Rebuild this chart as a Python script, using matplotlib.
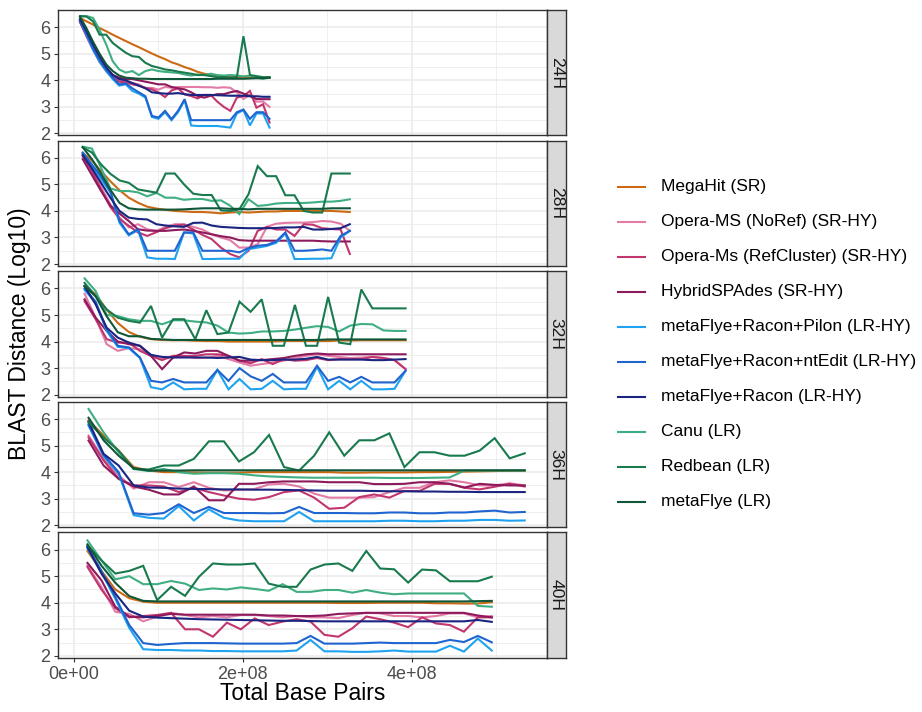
import matplotlib
matplotlib.use("Agg")
import matplotlib.pyplot as plt
from matplotlib.lines import Line2D

plt.rcParams["font.family"] = ["Liberation Sans", "DejaVu Sans"]

# ---------------------------------------------------------------- data
methods = [
    "MegaHit (SR)",
    "Opera-MS (NoRef) (SR-HY)",
    "Opera-Ms (RefCluster) (SR-HY)",
    "HybridSPAdes (SR-HY)",
    "metaFlye+Racon+Pilon (LR-HY)",
    "metaFlye+Racon+ntEdit (LR-HY)",
    "metaFlye+Racon (LR-HY)",
    "Canu (LR)",
    "Redbean (LR)",
    "metaFlye (LR)",
]
method_colors = [
    "#CC6A14", "#E27BA6", "#C2366F", "#8C1A5C", "#1FA2F0",
    "#1F64CF", "#1B2580", "#3FAE82", "#197A4E", "#10573A",
]
facets = ["24H", "28H", "32H", "36H", "40H"]

# total base pairs (millions) of each subsample, per time point
bp_24h = [7.7, 15.5, 23.2, 30.9, 38.7, 46.4, 54.1, 61.9, 69.6, 77.3,
          85.1, 92.8, 100.5, 108.3, 116.0, 123.7, 131.5, 139.2, 146.9, 154.7,
          162.4, 170.1, 177.9, 185.6, 193.3, 201.1, 208.8, 216.5, 224.3, 232.0]
bp_28h = [10.9, 21.8, 32.7, 43.6, 54.5, 65.4, 76.3, 87.2, 98.1, 109.0,
          119.9, 130.8, 141.7, 152.6, 163.5, 174.4, 185.3, 196.2, 207.1, 218.0,
          228.9, 239.8, 250.7, 261.6, 272.5, 283.4, 294.3, 305.2, 316.1, 327.0]
bp_32h = [13.1, 26.2, 39.3, 52.4, 65.5, 78.6, 91.7, 104.8, 117.9, 131.0,
          144.1, 157.2, 170.3, 183.4, 196.5, 209.6, 222.7, 235.8, 248.9, 262.0,
          275.1, 288.2, 301.3, 314.4, 327.5, 340.6, 353.7, 366.8, 379.9, 393.0]
bp_36h = [17.8, 35.6, 53.4, 71.2, 89.0, 106.8, 124.6, 142.4, 160.2, 178.0,
          195.8, 213.6, 231.4, 249.2, 267.0, 284.8, 302.6, 320.4, 338.2, 356.0,
          373.8, 391.6, 409.4, 427.2, 445.0, 462.8, 480.6, 498.4, 516.2, 534.0]
bp_40h = [16.5, 33.0, 49.5, 66.0, 82.5, 99.0, 115.5, 132.0, 148.5, 165.0,
          181.5, 198.0, 214.5, 231.0, 247.5, 264.0, 280.5, 297.0, 313.5, 330.0,
          346.5, 363.0, 379.5, 396.0, 412.5, 429.0, 445.5, 462.0, 478.5, 495.0]

# BLAST distance (log10) per method, per time point
blast_24h = {
    "MegaHit (SR)": [6.35, 6.22, 6.10, 5.97, 5.85, 5.72, 5.60, 5.48, 5.36, 5.25, 5.13, 5.01, 4.90, 4.80, 4.68, 4.60, 4.50, 4.42, 4.32, 4.25, 4.20, 4.18, 4.15, 4.15, 4.12, 4.12, 4.10, 4.10, 4.10, 4.10],
    "Opera-MS (NoRef) (SR-HY)": [6.25, 5.75, 5.25, 4.80, 4.45, 4.20, 4.00, 3.95, 3.90, 3.85, 3.70, 3.72, 3.65, 3.75, 3.72, 3.75, 3.75, 3.75, 3.75, 3.74, 3.74, 3.72, 3.74, 3.72, 3.55, 3.30, 3.45, 3.20, 3.20, 3.00],
    "Opera-Ms (RefCluster) (SR-HY)": [6.20, 5.65, 5.15, 4.70, 4.35, 4.10, 3.95, 3.92, 3.85, 3.80, 3.72, 3.66, 3.55, 3.37, 3.62, 3.70, 3.47, 3.41, 3.32, 3.45, 3.45, 3.20, 3.00, 2.85, 3.35, 3.41, 3.60, 2.97, 3.10, 2.41],
    "HybridSPAdes (SR-HY)": [6.20, 5.70, 5.20, 4.75, 4.45, 4.20, 4.10, 4.05, 4.05, 4.00, 3.95, 3.90, 3.85, 3.85, 3.75, 3.70, 3.66, 3.55, 3.41, 3.35, 3.42, 3.48, 3.48, 3.55, 3.60, 3.50, 3.41, 3.30, 3.29, 3.29],
    "metaFlye+Racon+Pilon (LR-HY)": [6.25, 5.70, 5.15, 4.70, 4.35, 4.05, 3.80, 3.85, 3.60, 3.50, 3.35, 2.62, 2.55, 2.80, 2.50, 2.80, 3.25, 2.30, 2.28, 2.28, 2.28, 2.28, 2.25, 2.22, 2.75, 2.88, 2.30, 2.75, 2.75, 2.22],
    "metaFlye+Racon+ntEdit (LR-HY)": [6.25, 5.75, 5.20, 4.75, 4.40, 4.10, 3.85, 3.88, 3.70, 3.55, 3.40, 2.66, 2.60, 2.85, 2.54, 2.85, 3.29, 2.50, 2.50, 2.50, 2.50, 2.50, 2.50, 2.50, 2.80, 2.90, 2.55, 2.80, 2.80, 2.55],
    "metaFlye+Racon (LR-HY)": [6.30, 5.85, 5.35, 4.90, 4.50, 4.20, 4.05, 4.00, 3.90, 3.80, 3.70, 3.55, 3.52, 3.50, 3.50, 3.52, 3.48, 3.45, 3.45, 3.45, 3.45, 3.44, 3.43, 3.42, 3.42, 3.42, 3.40, 3.40, 3.38, 3.38],
    "Canu (LR)": [6.42, 6.42, 6.35, 5.90, 5.35, 4.72, 4.41, 4.29, 4.35, 4.20, 4.35, 4.41, 4.35, 4.32, 4.30, 4.28, 4.22, 4.18, 4.22, 4.20, 4.25, 4.20, 4.18, 4.20, 4.18, 4.15, 4.18, 4.10, 4.06, 4.10],
    "Redbean (LR)": [6.42, 6.40, 6.22, 5.72, 5.72, 5.41, 5.22, 5.04, 4.91, 4.88, 4.66, 4.54, 4.48, 4.41, 4.38, 4.33, 4.29, 4.25, 4.20, 4.20, 4.16, 4.12, 4.12, 4.10, 4.12, 5.66, 4.20, 4.16, 4.12, 4.12],
    "metaFlye (LR)": [6.40, 5.95, 5.45, 5.00, 4.60, 4.35, 4.18, 4.10, 4.08, 4.06, 4.06, 4.05, 4.05, 4.05, 4.05, 4.05, 4.05, 4.05, 4.05, 4.05, 4.05, 4.06, 4.06, 4.06, 4.06, 4.06, 4.07, 4.08, 4.08, 4.10],
}
blast_28h = {
    "MegaHit (SR)": [6.19, 5.90, 5.50, 5.12, 4.78, 4.50, 4.31, 4.16, 4.09, 4.04, 4.00, 3.98, 3.96, 3.96, 3.94, 3.91, 3.94, 3.96, 3.94, 3.96, 3.98, 3.98, 4.00, 4.00, 4.00, 4.00, 4.00, 4.00, 3.98, 3.96],
    "Opera-MS (NoRef) (SR-HY)": [6.12, 5.60, 4.90, 4.25, 3.75, 3.38, 3.50, 3.31, 3.25, 3.40, 3.50, 3.50, 3.40, 3.30, 3.12, 3.00, 2.90, 2.62, 2.62, 2.75, 3.40, 3.52, 3.55, 3.56, 3.56, 3.58, 3.62, 3.60, 3.52, 3.25],
    "Opera-Ms (RefCluster) (SR-HY)": [6.06, 5.50, 4.80, 4.15, 3.70, 3.44, 3.19, 3.06, 3.20, 3.35, 3.45, 3.48, 3.30, 3.10, 2.94, 2.62, 2.38, 2.25, 2.50, 3.25, 3.40, 3.30, 3.30, 3.06, 3.50, 3.48, 3.35, 3.32, 3.30, 2.38],
    "HybridSPAdes (SR-HY)": [5.95, 5.35, 4.75, 4.20, 3.90, 3.62, 3.31, 3.26, 3.25, 3.25, 3.28, 3.30, 3.25, 3.19, 3.12, 3.05, 3.00, 2.90, 2.88, 2.88, 2.88, 2.88, 2.88, 2.88, 2.88, 2.88, 2.86, 2.85, 2.85, 2.85],
    "metaFlye+Racon+Pilon (LR-HY)": [6.15, 5.70, 5.20, 4.70, 3.55, 3.08, 3.28, 2.25, 2.20, 2.20, 2.19, 3.19, 3.15, 2.19, 2.19, 2.20, 2.20, 2.20, 2.56, 2.62, 2.68, 2.80, 3.15, 2.19, 2.19, 2.20, 2.20, 2.22, 3.00, 3.25],
    "metaFlye+Racon+ntEdit (LR-HY)": [6.20, 5.75, 5.30, 4.75, 3.62, 3.12, 3.31, 2.50, 2.50, 2.50, 2.50, 3.19, 3.19, 2.50, 2.50, 2.50, 2.50, 2.44, 2.60, 2.69, 2.72, 2.85, 3.19, 2.50, 2.50, 2.52, 2.55, 2.50, 3.06, 3.25],
    "metaFlye+Racon (LR-HY)": [6.10, 5.60, 5.05, 4.50, 4.00, 3.75, 3.70, 3.68, 3.50, 3.45, 3.42, 3.40, 3.55, 3.56, 3.45, 3.40, 3.38, 3.36, 3.35, 3.35, 3.35, 3.36, 3.38, 3.38, 3.40, 3.30, 3.30, 3.32, 3.35, 3.50],
    "Canu (LR)": [6.42, 6.35, 5.62, 4.85, 4.75, 4.75, 4.70, 4.55, 4.68, 4.50, 4.50, 4.42, 4.45, 4.45, 4.38, 4.40, 4.20, 3.88, 4.44, 4.19, 4.22, 4.28, 4.30, 4.30, 4.30, 4.32, 4.35, 4.35, 4.38, 4.44],
    "Redbean (LR)": [6.40, 6.20, 5.75, 5.40, 5.15, 5.06, 4.81, 4.75, 4.69, 5.41, 5.41, 5.00, 4.65, 4.60, 4.60, 4.02, 4.00, 4.06, 4.63, 5.69, 5.31, 5.31, 4.59, 4.59, 4.00, 3.94, 3.94, 5.41, 5.41, 5.41],
    "metaFlye (LR)": [6.40, 5.95, 5.40, 4.80, 4.30, 4.10, 4.06, 4.05, 4.05, 4.05, 4.05, 4.06, 4.08, 4.10, 4.10, 4.10, 4.08, 4.08, 4.06, 4.08, 4.08, 4.08, 4.08, 4.08, 4.08, 4.08, 4.08, 4.10, 4.10, 4.10],
}
blast_32h = {
    "MegaHit (SR)": [6.09, 5.78, 5.20, 4.70, 4.36, 4.18, 4.09, 4.06, 4.05, 4.05, 4.03, 4.02, 4.02, 4.00, 4.00, 4.00, 4.00, 4.00, 4.02, 4.02, 4.02, 4.02, 4.02, 4.04, 4.04, 4.05, 4.05, 4.05, 4.05, 4.05],
    "Opera-MS (NoRef) (SR-HY)": [5.80, 4.90, 3.90, 3.65, 3.75, 3.71, 3.46, 3.34, 3.46, 3.46, 3.38, 3.38, 3.46, 3.34, 3.21, 3.09, 3.15, 3.21, 3.28, 3.38, 3.46, 3.52, 3.46, 3.42, 3.38, 3.40, 3.42, 3.38, 3.30, 2.96],
    "Opera-Ms (RefCluster) (SR-HY)": [5.52, 4.84, 4.09, 3.96, 3.96, 3.65, 3.46, 3.30, 3.46, 3.46, 3.46, 3.52, 3.52, 3.46, 3.28, 3.18, 3.34, 3.15, 3.34, 3.28, 3.30, 3.38, 3.30, 3.34, 3.34, 3.34, 3.42, 3.38, 3.30, 2.96],
    "HybridSPAdes (SR-HY)": [5.59, 4.90, 4.40, 4.00, 3.90, 3.84, 3.46, 2.96, 3.40, 3.59, 3.55, 3.65, 3.65, 3.46, 3.28, 3.28, 3.30, 3.34, 3.38, 3.46, 3.52, 3.55, 3.52, 3.52, 3.52, 3.52, 3.52, 3.52, 3.52, 3.52],
    "metaFlye+Racon+Pilon (LR-HY)": [5.95, 5.45, 4.40, 3.80, 3.75, 3.38, 2.28, 2.20, 2.46, 2.20, 2.22, 2.22, 2.93, 2.20, 2.59, 2.20, 2.22, 2.52, 2.20, 2.22, 2.22, 3.05, 2.20, 2.52, 2.20, 2.52, 2.20, 2.20, 2.22, 2.90],
    "metaFlye+Racon+ntEdit (LR-HY)": [6.00, 5.50, 4.46, 3.84, 3.78, 3.40, 2.52, 2.46, 2.59, 2.46, 2.46, 2.46, 2.93, 2.52, 3.00, 2.69, 2.52, 2.78, 2.46, 2.46, 2.46, 3.09, 2.52, 2.67, 2.46, 2.67, 2.46, 2.46, 2.46, 2.90],
    "metaFlye+Racon (LR-HY)": [6.09, 5.40, 4.52, 4.15, 3.96, 3.84, 3.50, 3.42, 3.40, 3.40, 3.40, 3.40, 3.38, 3.40, 3.42, 3.32, 3.30, 3.30, 3.32, 3.32, 3.35, 3.42, 3.32, 3.32, 3.32, 3.32, 3.30, 3.30, 3.32, 3.34],
    "Canu (LR)": [6.38, 5.90, 5.00, 4.96, 4.84, 4.78, 4.78, 4.65, 4.80, 4.80, 4.75, 4.72, 4.60, 4.34, 4.30, 4.32, 4.38, 4.38, 4.40, 4.45, 4.52, 4.58, 4.55, 4.38, 4.60, 4.66, 4.65, 4.42, 4.40, 4.40],
    "Redbean (LR)": [6.21, 5.71, 5.21, 4.90, 4.78, 4.71, 5.34, 4.15, 4.84, 4.84, 4.09, 5.18, 4.28, 4.34, 5.50, 5.12, 5.59, 3.84, 3.84, 5.38, 3.84, 3.84, 5.68, 3.96, 3.90, 5.96, 5.25, 5.25, 5.25, 5.25],
    "metaFlye (LR)": [6.09, 5.70, 4.95, 4.35, 4.20, 4.20, 4.10, 4.08, 4.06, 4.06, 4.06, 4.06, 4.06, 4.06, 4.06, 4.06, 4.06, 4.06, 4.06, 4.06, 4.06, 4.06, 4.08, 4.08, 4.08, 4.08, 4.08, 4.08, 4.08, 4.08],
}
blast_36h = {
    "MegaHit (SR)": [5.95, 5.38, 4.81, 4.19, 4.06, 4.00, 4.00, 3.99, 3.98, 3.98, 3.98, 4.00, 4.00, 4.00, 4.00, 4.00, 4.00, 3.98, 3.98, 3.99, 3.99, 3.99, 4.00, 4.00, 4.01, 4.02, 4.03, 4.04, 4.05, 4.05],
    "Opera-MS (NoRef) (SR-HY)": [5.38, 4.50, 3.88, 3.38, 3.62, 3.62, 3.44, 3.62, 3.41, 3.31, 3.33, 3.36, 3.54, 3.56, 3.46, 3.19, 3.04, 3.04, 3.04, 3.06, 3.25, 3.41, 3.41, 3.62, 3.69, 3.62, 3.50, 3.50, 3.58, 3.50],
    "Opera-Ms (RefCluster) (SR-HY)": [5.31, 4.44, 3.75, 3.50, 3.50, 3.46, 3.25, 3.41, 3.25, 3.12, 3.00, 2.96, 3.06, 3.25, 3.31, 3.04, 2.62, 2.66, 3.06, 3.16, 3.04, 3.29, 3.29, 3.56, 3.56, 3.41, 3.35, 3.45, 3.56, 3.46],
    "HybridSPAdes (SR-HY)": [5.19, 4.25, 3.75, 3.46, 3.34, 3.16, 3.16, 3.46, 2.94, 2.94, 3.56, 3.56, 3.62, 3.65, 3.65, 3.65, 3.62, 3.62, 3.62, 3.55, 3.55, 3.56, 3.62, 3.62, 3.56, 3.42, 3.56, 3.52, 3.50, 3.50],
    "metaFlye+Racon+Pilon (LR-HY)": [5.75, 4.60, 3.95, 2.38, 2.28, 2.25, 2.72, 2.18, 2.60, 2.28, 2.18, 2.15, 2.15, 2.15, 2.50, 2.15, 2.15, 2.15, 2.15, 2.15, 2.17, 2.17, 2.15, 2.15, 2.17, 2.17, 2.20, 2.20, 2.17, 2.18],
    "metaFlye+Racon+ntEdit (LR-HY)": [5.80, 4.65, 4.00, 2.45, 2.40, 2.46, 2.79, 2.46, 2.69, 2.46, 2.46, 2.46, 2.45, 2.46, 2.69, 2.46, 2.46, 2.46, 2.45, 2.45, 2.48, 2.48, 2.45, 2.45, 2.48, 2.48, 2.52, 2.55, 2.48, 2.50],
    "metaFlye+Racon (LR-HY)": [5.90, 4.69, 4.25, 3.50, 3.42, 3.41, 3.38, 3.37, 3.36, 3.35, 3.35, 3.34, 3.34, 3.33, 3.32, 3.31, 3.30, 3.30, 3.30, 3.29, 3.28, 3.28, 3.27, 3.27, 3.26, 3.26, 3.25, 3.25, 3.25, 3.25],
    "Canu (LR)": [6.38, 5.50, 4.75, 4.12, 4.04, 4.12, 4.00, 3.94, 3.96, 3.96, 3.94, 3.88, 3.84, 3.82, 3.80, 3.79, 3.79, 3.79, 3.79, 3.79, 3.78, 3.78, 3.78, 3.79, 3.80, 4.06, 4.06, 4.06, 4.06, 4.06],
    "Redbean (LR)": [5.88, 5.30, 4.81, 4.12, 4.10, 4.25, 4.25, 4.50, 5.16, 5.16, 4.40, 4.75, 5.40, 4.19, 4.06, 4.62, 5.50, 4.62, 5.20, 5.20, 5.46, 4.19, 4.75, 4.75, 4.62, 4.62, 4.81, 5.28, 4.52, 4.71],
    "metaFlye (LR)": [6.05, 5.20, 4.62, 4.15, 4.06, 4.06, 4.06, 4.07, 4.07, 4.07, 4.07, 4.07, 4.07, 4.07, 4.07, 4.07, 4.07, 4.07, 4.07, 4.07, 4.07, 4.07, 4.07, 4.07, 4.07, 4.07, 4.07, 4.07, 4.07, 4.07],
}
blast_40h = {
    "MegaHit (SR)": [5.95, 5.20, 4.50, 4.17, 4.04, 4.00, 4.00, 4.00, 4.00, 4.00, 4.00, 4.00, 4.00, 4.00, 4.00, 4.00, 4.00, 4.00, 3.99, 3.99, 3.99, 4.00, 4.00, 4.00, 4.00, 3.98, 3.98, 3.97, 3.97, 4.02],
    "Opera-MS (NoRef) (SR-HY)": [5.40, 4.60, 3.66, 3.58, 3.30, 3.48, 3.62, 3.54, 3.45, 3.50, 3.45, 3.54, 3.54, 3.50, 3.45, 3.50, 3.45, 3.45, 3.42, 3.54, 3.62, 3.60, 3.50, 3.50, 3.45, 3.50, 3.60, 3.60, 3.45, 3.50],
    "Opera-Ms (RefCluster) (SR-HY)": [5.35, 4.50, 3.80, 3.45, 3.50, 3.54, 3.62, 3.00, 3.00, 2.72, 3.25, 3.00, 3.41, 3.16, 3.29, 3.38, 3.29, 2.79, 2.72, 3.04, 3.48, 3.38, 3.25, 3.08, 3.45, 3.22, 3.16, 2.91, 3.45, 3.45],
    "HybridSPAdes (SR-HY)": [5.50, 4.85, 3.85, 3.48, 3.45, 3.50, 3.58, 3.55, 3.55, 3.55, 3.55, 3.55, 3.55, 3.52, 3.52, 3.50, 3.50, 3.52, 3.58, 3.60, 3.62, 3.62, 3.62, 3.62, 3.62, 3.62, 3.62, 3.62, 3.52, 3.45],
    "metaFlye+Racon+Pilon (LR-HY)": [6.05, 5.15, 4.15, 3.05, 2.25, 2.22, 2.22, 2.20, 2.20, 2.18, 2.18, 2.17, 2.17, 2.17, 2.17, 2.20, 2.60, 2.17, 2.17, 2.15, 2.15, 2.17, 2.20, 2.16, 2.16, 2.16, 2.38, 2.16, 2.65, 2.20],
    "metaFlye+Racon+ntEdit (LR-HY)": [6.10, 5.20, 4.22, 3.16, 2.48, 2.41, 2.45, 2.48, 2.48, 2.48, 2.47, 2.46, 2.46, 2.46, 2.46, 2.48, 2.75, 2.46, 2.46, 2.46, 2.48, 2.50, 2.48, 2.48, 2.48, 2.48, 2.60, 2.52, 2.75, 2.51],
    "metaFlye+Racon (LR-HY)": [6.10, 5.10, 4.35, 3.70, 3.48, 3.44, 3.42, 3.40, 3.38, 3.37, 3.36, 3.35, 3.34, 3.33, 3.32, 3.32, 3.31, 3.30, 3.30, 3.30, 3.30, 3.30, 3.30, 3.30, 3.30, 3.30, 3.30, 3.30, 3.35, 3.28],
    "Canu (LR)": [6.35, 5.60, 4.88, 5.00, 4.70, 4.70, 4.82, 4.72, 4.48, 4.54, 4.50, 4.58, 4.52, 4.45, 4.70, 4.41, 4.41, 4.48, 4.48, 4.38, 4.48, 4.38, 4.32, 4.35, 4.35, 4.35, 4.35, 4.35, 3.88, 3.85],
    "Redbean (LR)": [6.16, 5.60, 5.10, 5.20, 5.39, 4.10, 4.60, 4.26, 4.98, 5.48, 5.44, 5.44, 5.48, 4.72, 4.60, 4.60, 5.25, 5.44, 5.48, 5.20, 5.95, 5.29, 5.26, 4.76, 5.25, 5.22, 4.81, 4.81, 4.81, 4.98],
    "metaFlye (LR)": [6.20, 5.40, 4.75, 4.25, 4.07, 4.05, 4.05, 4.05, 4.05, 4.05, 4.05, 4.05, 4.05, 4.05, 4.05, 4.05, 4.05, 4.05, 4.05, 4.05, 4.05, 4.05, 4.05, 4.05, 4.05, 4.05, 4.05, 4.05, 4.06, 4.07],
}

x_ticks = [0, 2e8, 4e8]
x_tick_labels = ["0e+00", "2e+08", "4e+08"]
y_ticks = [2, 3, 4, 5, 6]

panel_bp = [bp_24h, bp_28h, bp_32h, bp_36h, bp_40h]
panel_blast = [blast_24h, blast_28h, blast_32h, blast_36h, blast_40h]

# ---------------------------------------------------------------- layout
W, H = 922, 712
fig = plt.figure(figsize=(W / 100, H / 100), dpi=100)


def rect(x0, y0, x1, y1):
    return [x0 / W, 1 - y1 / H, (x1 - x0) / W, (y1 - y0) / H]


panel_left, panel_right = 58.3, 546.7
strip_right = 566.0
panel_h = 125.3
panel_tops = [10.0, 140.6, 271.2, 401.8, 532.4]

border = "#333333"
grid_col = "#EBEBEB"

for i, (facet, bp, blast) in enumerate(zip(facets, panel_bp, panel_blast)):
    top = panel_tops[i]
    ax = fig.add_axes(rect(panel_left, top, panel_right, top + panel_h))
    xs = [v * 1e6 for v in bp]
    for name, col in zip(methods, method_colors):
        ax.plot(xs, blast[name], color=col, lw=1.5, solid_joinstyle="miter",
                zorder=3)
    ax.set_xlim(-1.8e7, 5.6e8)
    ax.set_ylim(1.93, 6.65)
    ax.set_xticks(x_ticks)
    ax.set_xticks([1e8, 3e8, 5e8], minor=True)
    ax.set_yticks(y_ticks)
    ax.set_yticks([2.5, 3.5, 4.5, 5.5], minor=True)
    ax.grid(True, which="major", color=grid_col, lw=1.1)
    ax.grid(True, which="minor", color=grid_col, lw=0.55)
    ax.set_axisbelow(True)
    ax.tick_params(which="minor", length=0)
    ax.tick_params(which="major", length=2.7, width=0.8, color=border,
                   labelcolor="#4D4D4D", labelsize=13, pad=3)
    ax.set_yticklabels([str(t) for t in y_ticks])
    if i == len(facets) - 1:
        ax.set_xticklabels(x_tick_labels)
    else:
        ax.tick_params(axis="x", which="major", length=0, labelbottom=False)
    for sp in ax.spines.values():
        sp.set_color(border)
        sp.set_linewidth(1.0)

    sax = fig.add_axes(rect(panel_right, top, strip_right, top + panel_h))
    sax.set_facecolor("#D9D9D9")
    sax.set_xticks([])
    sax.set_yticks([])
    for sp in sax.spines.values():
        sp.set_color(border)
        sp.set_linewidth(1.0)
    sax.text(0.5, 0.5, facet, rotation=-90, ha="center", va="center",
             fontsize=12.6, color="#1A1A1A", transform=sax.transAxes)

fig.text(20 / W, 1 - 334 / H, "BLAST Distance (Log10)", rotation=90,
         ha="center", va="center", fontsize=16.5, color="black")
fig.text((panel_left + panel_right) / 2 / W, 1 - 693 / H, "Total Base Pairs",
         ha="center", va="center", fontsize=16.5, color="black")

# legend
for j, (name, col) in enumerate(zip(methods, method_colors)):
    yc = 1 - (186.7 + 35.0 * j) / H
    fig.add_artist(Line2D([618 / W, 645 / W], [yc, yc], color=col, lw=1.5,
                          transform=fig.transFigure))
    fig.text(661 / W, yc, name, ha="left", va="center", fontsize=12.5,
             color="black")

fig.savefig("out.png", dpi=100)
